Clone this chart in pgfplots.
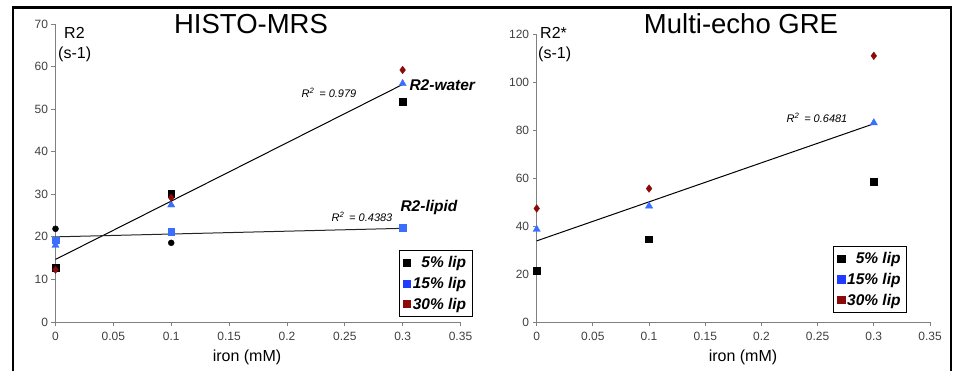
\documentclass[border=0pt]{standalone}
\usepackage{pgfplots}
\pgfplotsset{compat=1.18}
\usepackage{fontspec}
\setmainfont{Liberation Sans}
\definecolor{mblue}{HTML}{3A6EFF}
\definecolor{lblue}{HTML}{1F3CFF}
\definecolor{mred}{HTML}{8B0A0A}
\definecolor{axgray}{HTML}{808080}
\definecolor{tickgray}{HTML}{404040}
\pgfplotsset{
  myaxis/.style={
    scale only axis, clip=false,
    xmin=0, xmax=0.35, ymin=0,
    axis x line*=bottom, axis y line*=left,
    axis line style={axgray, line width=1pt, -},
    tick align=outside, major tick length=4pt,
    tick style={axgray, line width=0.8pt},
    xtick={0,0.05,0.1,0.15,0.2,0.25,0.3,0.35},
    xticklabels={0,0.05,0.1,0.15,0.2,0.25,0.3,0.35},
    /pgf/number format/assume math mode=true,
    ticklabel style={font=\fontsize{12}{14}\selectfont, text=tickgray},
    xticklabel style={yshift=-3pt},
    legend cell align=right,
    legend style={draw=black, line width=0.9pt, font=\fontsize{15.5}{17}\selectfont\bfseries\itshape,
      anchor=north east, inner xsep=4pt, inner ysep=4pt, row sep=4pt, fill=white,
      /tikz/every even column/.append style={column sep=2pt}},
  },
  sq/.style={only marks, mark=square*, mark size=3.6pt},
}
\begin{document}
\begin{tikzpicture}
\useasboundingbox (0pt,0pt) rectangle (953pt,370pt);
\begin{scope}
\clip (0pt,0pt) rectangle (953pt,370pt);
\draw[line width=2.5pt] (13pt,-10pt) -- (13pt,362.5pt) -- (951pt,362.5pt) -- (951pt,-10pt);
\end{scope}

% ---------------- left: HISTO-MRS
\begin{axis}[myaxis, at={(55.5pt,48pt)}, anchor=south west, width=405pt, height=298pt,
  ymax=70, ytick={0,10,...,70},
  legend style={at={(rel axis cs:1.03,0.2416)}}]
\addlegendimage{sq, black}\addlegendentry{5\% lip}
\addlegendimage{sq, lblue}\addlegendentry{15\% lip}
\addlegendimage{sq, mred}\addlegendentry{30\% lip}
% trend lines
\addplot[black, line width=1pt, forget plot] coordinates {(0,14.7) (0.3,55.8)};
\addplot[black!85, line width=1pt, forget plot] coordinates {(0,20.0) (0.3,22.0)};
% lipid
\addplot[only marks, mark=*, mark size=3pt, black, forget plot] coordinates {(0,21.9) (0.1,18.6)};
\addplot[only marks, mark=square*, mark size=3.4pt, mblue, forget plot] coordinates {(0,19.2) (0.1,21.2) (0.3,22.2)};
% water
\addplot[only marks, mark=square*, mark size=3.4pt, black, forget plot] coordinates {(0,12.7) (0.1,30.1) (0.3,51.8)};
\addplot[only marks, mark=triangle*, mark size=4.2pt, mblue, forget plot] coordinates {(0,18.0) (0.1,27.5) (0.3,56.0)};
\addplot[only marks, mark=diamond*, mark size=3.8pt, mred, forget plot] coordinates {(0,12.3) (0.1,29.2) (0.3,59.2)};
\end{axis}

% ---------------- right: Multi-echo GRE
\begin{axis}[myaxis, at={(536.7pt,48pt)}, anchor=south west, width=393.3pt, height=288pt,
  ymax=120, ytick={0,20,...,120},
  legend style={at={(rel axis cs:0.9415,0.264)}}]
\addlegendimage{sq, black}\addlegendentry{5\% lip}
\addlegendimage{sq, lblue}\addlegendentry{15\% lip}
\addlegendimage{sq, mred}\addlegendentry{30\% lip}
\addplot[black, line width=1pt, forget plot] coordinates {(0,33.8) (0.3,82.6)};
\addplot[only marks, mark=square*, mark size=3.4pt, black, forget plot] coordinates {(0,21.4) (0.1,34.5) (0.3,58.3)};
\addplot[only marks, mark=triangle*, mark size=4.2pt, mblue, forget plot] coordinates {(0,38.6) (0.1,48.3) (0.3,83.0)};
\addplot[only marks, mark=diamond*, mark size=3.8pt, mred, forget plot] coordinates {(0,47.3) (0.1,55.6) (0.3,110.9)};
\end{axis}

% titles
\node at (251pt,346pt) {\fontsize{27.5}{31}\selectfont HISTO-MRS};
\node at (741pt,346pt) {\fontsize{27.5}{31}\selectfont Multi-echo GRE};
% y labels
\node[anchor=west, inner sep=0] at (64pt,337pt) {\fontsize{16}{18}\selectfont R2};
\node[anchor=west, inner sep=0] at (58pt,316pt) {\fontsize{16}{18}\selectfont (s-1)};
\node[anchor=west, inner sep=0] at (540pt,337pt) {\fontsize{16}{18}\selectfont R2*};
\node[anchor=west, inner sep=0] at (538pt,316pt) {\fontsize{16}{18}\selectfont (s-1)};
% x labels
\node at (247pt,13pt) {\fontsize{16}{18}\selectfont iron (mM)};
\node at (743pt,13pt) {\fontsize{16}{18}\selectfont iron (mM)};
% annotations
\node at (329pt,277pt) {\fontsize{11}{12}\selectfont\itshape R\textsuperscript{2} \,= 0.979};
\node at (362pt,153pt) {\fontsize{11}{12}\selectfont\itshape R\textsuperscript{2} \,= 0.4383};
\node at (817pt,252pt) {\fontsize{11}{12}\selectfont\itshape R\textsuperscript{2} \,= 0.6481};
\node[anchor=west] at (406pt,285pt) {\fontsize{15.5}{17}\selectfont\bfseries\itshape R2-water};
\node[anchor=west] at (397pt,163pt) {\fontsize{15.5}{17}\selectfont\bfseries\itshape R2-lipid};
\end{tikzpicture}
\end{document}
